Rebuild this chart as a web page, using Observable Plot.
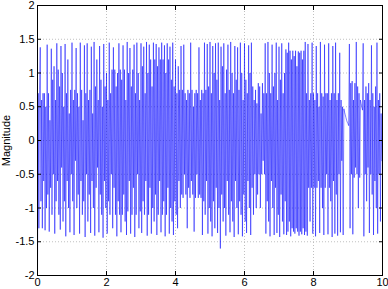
<!DOCTYPE html>
<html>
<head>
<meta charset="utf-8">
<script src="https://cdn.jsdelivr.net/npm/d3@7"></script>
<script src="https://cdn.jsdelivr.net/npm/@observablehq/plot@0.6"></script>
<style>
html,body{margin:0;padding:0;background:#fff;}
#chart svg{display:block;font-family:"Liberation Sans",Arial,Helvetica,sans-serif;font-size:11px;}
</style>
</head>
<body>
<div id="chart"></div>
<script>
const tStart = 0;
const tStep = 0.02;
const magnitude = [
-2,0.7,-1.3,0.75,1.38,-0.9,0.6,-1.3,0.7,-0.6,
0.7,-1.33,0.5,-1.0,1.42,-0.8,0.7,-1.35,0.3,-0.7,
1.36,-1.1,0.9,-0.5,1.1,-1.38,0.6,-0.9,1.44,-0.6,
1.05,-1.1,0.8,-1.32,1.4,-0.4,1.0,-1.2,0.5,-0.9,
1.43,-1.42,0.7,-0.6,1.2,-1.0,0.4,-1.36,0.75,-0.5,
1.45,-0.9,0.6,-1.4,0.75,-0.3,1.37,-1.0,0.7,-0.8,
0.5,-1.38,1.45,-0.6,0.75,-1.1,0.3,-0.9,1.41,-1.43,
0.7,-0.5,1.44,-1.2,0.6,-0.8,0.75,-1.37,1.39,-0.6,
0.4,-1.0,1.46,-1.41,0.8,-0.7,1.2,-0.4,0.6,-1.36,
1.4,-0.8,0.9,-1.1,0.5,-1.44,1.43,-0.6,0.8,-1.0,
1.0,-1.38,0.6,-0.9,1.45,-1.1,0.7,-0.5,1.05,-1.3,
1.38,-0.7,1.05,-1.1,0.8,-1.42,1.0,-0.9,1.44,-1.1,
1.05,-1.36,0.9,-1.1,1.41,-0.8,1.05,-1.2,0.6,-1.4,
1.46,-1.05,1.0,-0.6,1.37,-1.38,0.8,-1.1,1.05,-0.7,
1.42,-1.43,0.7,-1.1,1.45,-0.5,1.0,-1.3,0.6,-1.05,
1.44,-1.37,1.1,-0.9,1.39,-1.1,0.7,-0.6,1.46,-1.41,
1.0,-1.1,1.42,-0.7,1.2,-1.38,0.8,-1.0,1.45,-1.2,
1.2,-0.8,1.43,-1.4,1.1,-1.1,1.38,-0.6,1.2,-1.36,
1.45,-1.1,1.2,-0.9,1.41,-1.42,1.0,-1.1,1.44,-0.7,
1.2,-1.38,1.39,-1.0,0.9,-1.2,1.45,-1.4,0.8,-0.9,
1.2,-1.1,0.7,-1.3,1.1,-0.6,0.75,-1.0,1.4,-0.8,
0.75,-0.85,1.42,-0.5,0.7,-0.8,0.6,-1.3,0.75,-0.7,
0.7,-0.85,1.45,-0.6,0.75,-0.8,0.5,-1.35,0.7,-0.85,
0.75,-0.5,0.7,-0.85,1.38,-0.8,0.6,-0.85,0.75,-1.4,
0.7,-0.9,1.45,-1.1,0.75,-0.6,1.43,-1.38,0.8,-1.0,
1.46,-1.2,0.7,-1.42,1.4,-0.9,1.0,-1.3,1.44,-0.7,
0.9,-1.37,1.45,-1.0,0.6,-1.6,1.39,-0.8,1.1,-1.2,
1.44,-1.0,0.7,-1.41,1.05,-0.6,1.42,-1.1,0.75,-1.36,
1.46,-0.9,1.0,-1.2,0.7,-1.43,1.4,-0.6,0.9,-1.0,
1.38,-1.39,0.75,-0.9,1.45,-1.1,1.0,-1.42,0.6,-0.8,
1.44,-1.2,0.9,-1.37,0.7,-0.6,1.41,-1.0,1.0,-1.4,
1.45,-0.7,0.8,-1.1,0.6,-0.5,0.75,-1.0,0.55,-0.8,
0.85,-0.5,0.8,-1.0,0.4,-0.5,0.85,-0.3,0.7,-0.5,
1.44,-1.38,0.7,-0.9,1.46,-1.2,1.0,-1.42,0.7,-0.6,
1.42,-1.0,0.8,-1.4,1.0,-0.7,1.45,-1.37,0.6,-1.1,
1.39,-1.43,0.9,-0.8,1.44,-1.2,0.7,-1.39,1.0,-0.9,
1.35,-1.4,1.3,-1.35,1.45,-1.2,1.33,-1.42,1.2,-1.3,
1.33,-1.35,1.25,-1.38,1.33,-1.3,1.1,-1.35,1.32,-1.41,
1.3,-1.35,1.33,-1.39,1.2,-1.3,1.33,-1.4,1.46,-1.35,
0.7,-1.41,1.43,-0.7,0.6,-1.2,0.7,-0.7,1.45,-1.38,
0.7,-0.7,0.6,-1.42,1.4,-0.7,0.7,-0.6,0.5,-1.37,
1.46,-0.7,0.7,-1.0,0.65,-1.4,1.42,-0.7,0.7,-0.5,
0.7,-1.39,1.44,-0.7,0.6,-0.9,0.7,-1.43,1.4,-0.6,
0.7,-1.38,1.45,-0.8,0.6,-1.41,0.7,-0.5,1.3,-1.36,
0.6,-0.3,0.5,-1.4,0.47,0.42,0.38,0.34,0.3,0.27,
0.25,0.22,1.43,-1.3,0.85,-0.5,0.88,-1.39,0.6,-0.55,
0.85,-0.4,1.46,-0.5,0.8,-1.0,0.7,-0.55,0.6,0.55,
0.5,0.45,1.44,-1.42,0.6,-0.5,0.8,-0.9,0.7,-0.4,
0.85,-1.37,0.6,-0.5,1.41,-0.8,0.7,-1.4,0.5,-0.6,
0.8,-1.0,1.45,-1.38,0.6,-0.5,0.7,-1.2,0.4,-0.3
];
const xTicks = [0, 2, 4, 6, 8, 10];
const yTicks = [-2, -1.5, -1, -0.5, 0, 0.5, 1, 1.5, 2];
const yLabel = "Magnitude";

const data = magnitude.map((v, i) => ({t: tStart + i * tStep, v}));
const fmt = d => String(d);
const blank = () => "";

const chart = Plot.plot({
  width: 388,
  height: 289,
  marginLeft: 37,
  marginRight: 6,
  marginTop: 5,
  marginBottom: 14,
  style: {background: "#fff", color: "#000"},
  x: {domain: [0, 10], ticks: xTicks},
  y: {domain: [-2, 2], ticks: yTicks},
  marks: [
    Plot.gridY(yTicks, {stroke: "#c0c0c0", strokeOpacity: 1, strokeDasharray: "1,2"}),
    Plot.gridX(xTicks, {stroke: "#c0c0c0", strokeOpacity: 1, strokeDasharray: "1,2"}),
    Plot.line(data, {x: "t", y: "v", stroke: "#0000ff", strokeWidth: 0.5}),
    Plot.frame({stroke: "#000"}),
    Plot.axisX(xTicks, {anchor: "bottom", tickSize: -4, tickPadding: 7, tickFormat: fmt, label: null, fontSize: 11}),
    Plot.axisX(xTicks, {anchor: "top", tickSize: -4, tickFormat: blank, label: null}),
    Plot.axisY(yTicks, {anchor: "left", tickSize: -4, tickPadding: 7, tickFormat: fmt, label: yLabel, labelAnchor: "center", labelOffset: 35, labelArrow: "none", fontSize: 11}),
    Plot.axisY(yTicks, {anchor: "right", tickSize: -4, tickFormat: blank, label: null})
  ]
});
document.getElementById("chart").appendChild(chart);
</script>
</body>
</html>
